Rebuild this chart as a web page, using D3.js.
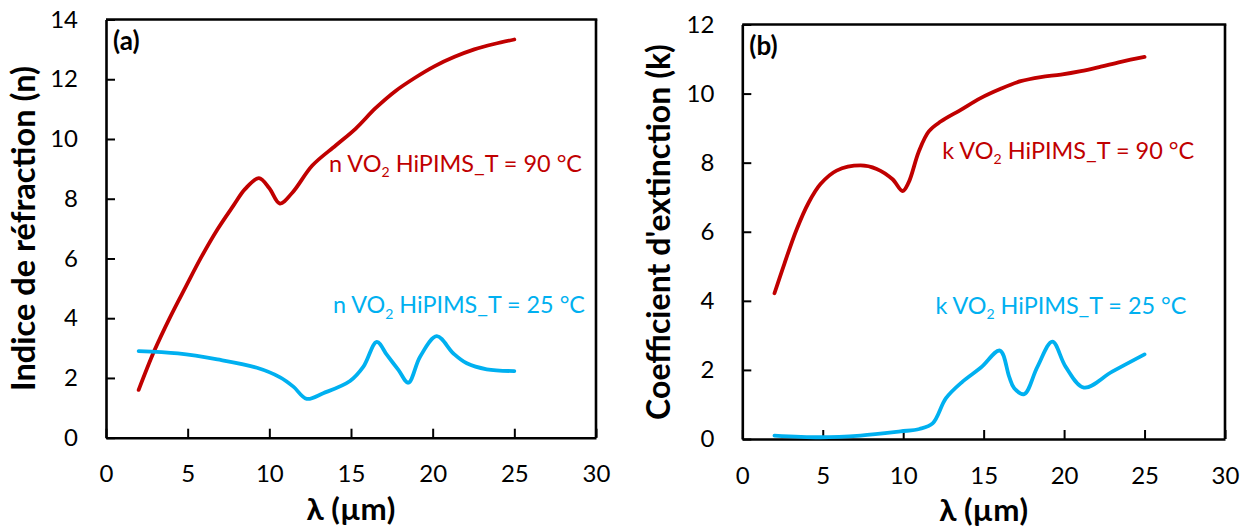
<!DOCTYPE html>
<html><head><meta charset="utf-8">
<script src="https://cdn.jsdelivr.net/npm/d3@7"></script>
<style>body{margin:0;background:#fff} svg{display:block} text{font-family:Lato,'Open Sans',sans-serif}</style>
</head><body><svg id="c" width="1249" height="530"></svg>
<script>
// ---------- data ----------
const xTicks = [0, 5, 10, 15, 20, 25, 30];
const nTicksY = [0, 2, 4, 6, 8, 10, 12, 14];
const kTicksY = [0, 2, 4, 6, 8, 10, 12];

// (a) refractive index n, T = 90 °C
const nHotX = [2.0, 2.95, 3.92, 4.88, 5.85, 6.82, 7.79, 8.51, 9.36, 10.0, 10.64, 11.42, 12.63, 14.08, 15.29, 16.5, 17.71, 18.92, 20.13, 21.34, 22.55, 23.76, 25.0];
const nHotY = [1.6, 2.9, 4.03, 5.05, 6.06, 6.97, 7.76, 8.32, 8.69, 8.35, 7.84, 8.21, 9.11, 9.79, 10.35, 11.03, 11.6, 12.05, 12.44, 12.75, 13.0, 13.18, 13.33];
// (a) refractive index n, T = 25 °C
const nColdX = [2.0, 4.4, 6.82, 9.24, 10.66, 11.47, 12.29, 13.3, 14.94, 15.76, 16.58, 17.2, 17.9, 18.51, 19.23, 20.25, 21.27, 22.09, 23.31, 25.0];
const nColdY = [2.9, 2.82, 2.62, 2.34, 2.02, 1.71, 1.30, 1.49, 1.9, 2.38, 3.21, 2.77, 2.27, 1.84, 2.71, 3.4, 2.82, 2.49, 2.29, 2.23];
// (b) extinction coefficient k, T = 90 °C
const kHotX = [2.0, 2.62, 3.37, 4.12, 4.86, 5.86, 7.35, 8.35, 9.34, 9.96, 10.34, 10.96, 11.58, 12.33, 13.58, 14.81, 16.06, 17.3, 18.55, 19.8, 21.04, 22.28, 23.53, 25.0];
const kHotY = [4.22, 5.08, 6.06, 6.84, 7.38, 7.77, 7.92, 7.82, 7.52, 7.18, 7.43, 8.31, 8.9, 9.19, 9.53, 9.87, 10.14, 10.36, 10.48, 10.55, 10.65, 10.78, 10.92, 11.06];
// (b) extinction coefficient k, T = 25 °C
const kColdX = [2.0, 4.86, 7.35, 9.83, 11.01, 11.83, 12.66, 13.69, 14.83, 16.01, 16.59, 16.9, 17.52, 18.34, 19.27, 20.1, 21.23, 22.99, 25.0];
const kColdY = [0.1, 0.05, 0.1, 0.22, 0.29, 0.45, 1.18, 1.66, 2.07, 2.56, 1.8, 1.47, 1.3, 2.09, 2.82, 2.09, 1.49, 1.95, 2.45];

const xTitle = "λ (µm)";
const nTitle = "Indice de réfraction (n)";
const kTitle = "Coefficient d'extinction (k)";
const labelsA = [["n VO", "2", " HiPIMS_T = 90 °C"], ["n VO", "2", " HiPIMS_T = 25 °C"]];
const labelsB = [["k VO", "2", " HiPIMS_T = 90 °C"], ["k VO", "2", " HiPIMS_T = 25 °C"]];

// ---------- drawing ----------
const RED = "#C00000", BLUE = "#00B0F0";
const svg = d3.select("#c");
svg.append("rect").attr("width", 1249).attr("height", 530).attr("fill", "#fff");

function fitSize(sel, base, target) {
  const w = sel.node().getBBox().width;
  return base * target / w;
}

function seriesLabel(g, parts, px, py, color, width) {
  const t = g.append("text").attr("x", px).attr("y", py).attr("fill", color);
  function build(s) {
    t.selectAll("*").remove();
    t.attr("font-size", s);
    t.append("tspan").text(parts[0]);
    t.append("tspan").attr("font-size", s * 0.6).attr("dy", s * 0.22).text(parts[1]);
    t.append("tspan").attr("dy", -s * 0.22).text(parts[2]);
  }
  build(20);
  const s = fitSize(t, 20, width);
  build(s);
}

function panel(cfg) {
  const x = d3.scaleLinear().domain([0, 30]).range([cfg.l, cfg.r]);
  const y = d3.scaleLinear().domain([0, cfg.yMax]).range([cfg.b, cfg.t]);
  const g = svg.append("g");

  const xa = g.append("g").attr("transform", `translate(0,${cfg.b})`)
    .call(d3.axisBottom(x).tickValues(xTicks).tickSizeInner(-9).tickSizeOuter(0).tickPadding(27.5));
  const ya = g.append("g").attr("transform", `translate(${cfg.l},0)`)
    .call(d3.axisLeft(y).tickValues(cfg.yTicks).tickSizeInner(-9).tickSizeOuter(0).tickPadding(28));
  [xa, ya].forEach(a => {
    a.selectAll("text").attr("font-size", 24).attr("fill", "#000").attr("font-family", "Lato,'Open Sans',sans-serif");
    a.selectAll(".tick line").attr("stroke", "#000").attr("stroke-width", 2);
    a.select(".domain").attr("stroke", "#000").attr("stroke-width", 2.6);
  });
  g.append("line").attr("x1", cfg.l).attr("x2", cfg.r + 1.3).attr("y1", cfg.t).attr("y2", cfg.t)
    .attr("stroke", "#000").attr("stroke-width", 2.6);
  g.append("line").attr("x1", cfg.r).attr("x2", cfg.r).attr("y1", cfg.t).attr("y2", cfg.b)
    .attr("stroke", "#000").attr("stroke-width", 2.6);

  const line = d3.line().x(d => x(d[0])).y(d => y(d[1])).curve(d3.curveCatmullRom.alpha(0.5));
  cfg.series.forEach(s => {
    g.append("path").datum(d3.zip(s.x, s.y)).attr("d", line)
      .attr("fill", "none").attr("stroke", s.color).attr("stroke-width", 3.8)
      .attr("stroke-linecap", "round").attr("stroke-linejoin", "round");
  });

  cfg.labels.forEach(lb => seriesLabel(g, lb.parts, x(lb.x), y(lb.y), lb.color, lb.w));

  // panel tag
  g.append("text").attr("x", cfg.l + 7).attr("y", cfg.t + 30.5)
    .attr("font-weight", "bold").attr("font-size", 26).attr("fill", "#000").text(cfg.tag);

  // x title
  const xt = g.append("text").attr("x", (cfg.l + cfg.r) / 2).attr("y", cfg.b + 82)
    .attr("text-anchor", "middle").attr("font-weight", "bold").attr("font-size", 28).attr("fill", "#000").text(xTitle);
  xt.attr("font-size", fitSize(xt, 28, 89));

  // y title
  const yt = g.append("text").attr("transform", `translate(${cfg.ytX},${cfg.ytY}) rotate(-90)`)
    .attr("text-anchor", "middle").attr("font-weight", "bold").attr("font-size", 28).attr("fill", "#000").text(cfg.yTitle);
  yt.attr("font-size", fitSize(yt, 28, cfg.ytLen));
}

panel({
  l: 106, r: 596, t: 19.5, b: 437.7, yMax: 14, yTicks: nTicksY, tag: "(a)",
  yTitle: nTitle, ytX: 35, ytY: 228.5, ytLen: 325,
  series: [{x: nHotX, y: nHotY, color: RED}, {x: nColdX, y: nColdY, color: BLUE}],
  labels: [
    {parts: labelsA[0], x: 13.66, y: 8.9, color: RED, w: 253},
    {parts: labelsA[1], x: 13.9, y: 4.16, color: BLUE, w: 252}
  ]
});
panel({
  l: 742.3, r: 1225, t: 24.5, b: 439, yMax: 12, yTicks: kTicksY, tag: "(b)",
  yTitle: kTitle, ytX: 670, ytY: 232, ytLen: 376,
  series: [{x: kHotX, y: kHotY, color: RED}, {x: kColdX, y: kColdY, color: BLUE}],
  labels: [
    {parts: labelsB[0], x: 12.43, y: 8.11, color: RED, w: 252},
    {parts: labelsB[1], x: 12.0, y: 3.62, color: BLUE, w: 251}
  ]
});
</script></body></html>
